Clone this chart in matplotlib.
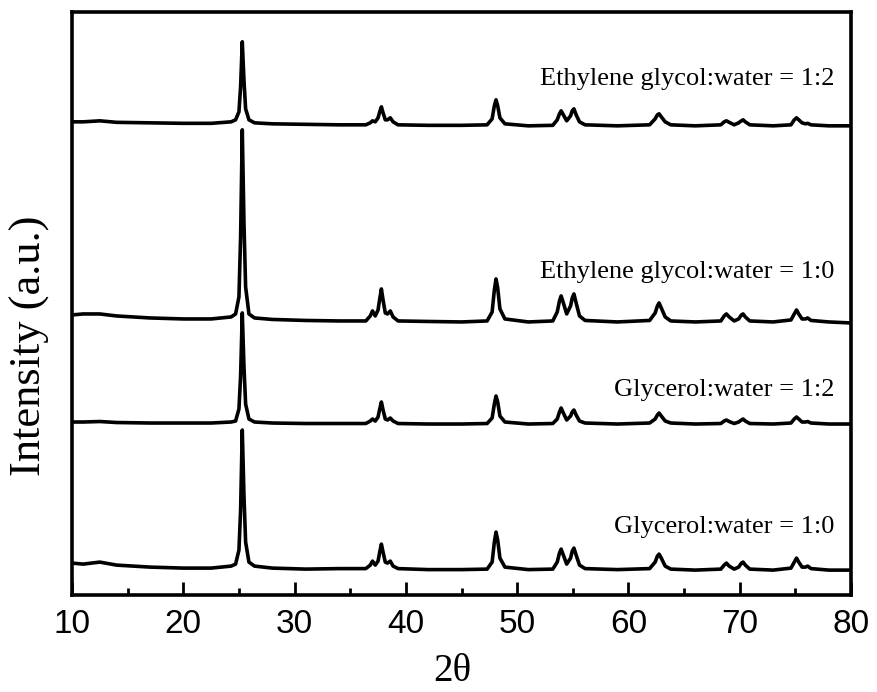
import matplotlib
matplotlib.use("Agg")
import matplotlib.pyplot as plt
from matplotlib.ticker import MultipleLocator

# 2-theta grid shared by all four patterns (degrees)
two_theta = [10, 11, 12.5, 14, 17, 20, 22.5, 24.3, 24.7, 25.0, 25.15, 25.3,
             25.45, 25.6, 25.9, 26.4, 28, 31, 34, 36.4, 36.8, 37.0, 37.25,
             37.5, 37.65, 37.8, 37.95, 38.15, 38.35, 38.6, 38.85, 39.3, 42,
             45, 47.3, 47.75, 47.95, 48.1, 48.25, 48.45, 48.9, 51, 53.2, 53.6,
             53.8, 53.95, 54.15, 54.45, 54.8, 54.95, 55.1, 55.3, 55.6, 56.1,
             59, 61.9, 62.4, 62.6, 62.75, 62.95, 63.3, 63.8, 66, 68.3, 68.6,
             68.8, 69.05, 69.5, 69.9, 70.15, 70.3, 70.5, 70.9, 73, 74.6, 74.9,
             75.1, 75.3, 75.6, 75.9, 76.1, 76.4, 78, 80]

# intensities (a.u.)
gly_1_0 = [7, 6, 8, 5, 3, 2, 2, 4, 6, 20, 60, 140,
           75, 28, 8, 4, 2, 1, 1.5, 1.5, 5, 9, 5,
           9, 18, 26, 18, 8, 7, 9, 4, 1.5, 0.5,
           0.5, 1, 8, 28, 38, 30, 12, 3, 0.5, 1, 8,
           17, 21, 15, 6, 12, 19, 22, 15, 5, 1.5,
           0.5, 1.5, 8, 14, 16, 12, 4, 1, 0, 1, 5,
           7, 4, 1, 3, 7, 8, 5, 1, 0, 2, 8,
           12, 8, 3, 3, 4, 1.5, 0, 0]

gly_1_2 = [2, 2, 2.5, 1.5, 1, 1, 1, 2, 3, 15, 48, 111,
           58, 20, 5, 2, 1, 0.5, 0.5, 0.5, 3, 5, 3,
           7, 15, 22, 14, 5, 4, 6, 3, 0.5, 0,
           0, 0.5, 6, 20, 28, 22, 8, 2, 0, 0.5, 5,
           12, 16, 11, 4, 8, 12, 14, 9, 3, 1,
           0, 1, 5, 9, 11, 8, 3, 1, 0, 0.5, 3,
           4, 2.5, 0.5, 2, 4, 5, 3, 0.5, 0, 1, 5,
           7, 5, 2, 2, 2.5, 1, 0, 0]

eg_1_0 = [7, 8, 8, 6, 4, 3, 3, 5, 8, 25, 85, 192,
          100, 35, 8, 4, 2.5, 1.5, 1, 1, 6, 11, 6,
          12, 23, 33, 22, 9, 8, 11, 5, 1, 0.5,
          0, 1, 10, 32, 43, 34, 13, 3, 0, 1, 10,
          21, 26, 19, 8, 16, 24, 28, 19, 6, 1.5,
          0, 1.5, 9, 16, 19, 14, 5, 1, 0, 1, 6,
          8, 5, 1, 3, 7, 8, 5, 1, 0, 2, 8,
          12, 8, 3, 3, 4, 1.5, 0, -1]

eg_1_2 = [3, 3, 4, 2.5, 2, 1.5, 1.5, 3, 5, 13, 38, 83,
          45, 16, 5, 2, 1, 0.5, 0, 0, 2, 4, 3,
          7, 13, 18, 12, 5, 5, 7, 3, 0, -0.5,
          -0.5, 0, 6, 19, 25, 19, 7, 1, -1, -0.5, 5,
          11, 14, 10, 4, 9, 14, 16, 10, 3, 0,
          -1, 0, 6, 10, 11, 8, 3, 0, -1, 0, 3,
          4, 2.5, 0, 2, 4, 5, 3, 0, -1, 0, 5,
          7, 5, 2, 1, 1.5, 0, -1, -1]

patterns = [gly_1_0, gly_1_2, eg_1_0, eg_1_2]
labels = ["Glycerol:water = 1:0", "Glycerol:water = 1:2",
          "Ethylene glycol:water = 1:0", "Ethylene glycol:water = 1:2"]

# vertical stacking offsets and label heights
offsets = [25, 171, 273, 470]
label_y = [68, 205, 323, 516]

serif = "Liberation Serif"
sans = "Liberation Sans"

fig = plt.figure(figsize=(8.77, 6.92), dpi=100)
ax = fig.add_axes([0.0821, 0.140, 0.8883, 0.843])

for y, off, lab, ly in zip(patterns, offsets, labels, label_y):
    ax.plot(two_theta, [v + off for v in y], color="black", lw=2.6,
            solid_joinstyle="round")
    ax.text(78.5, ly, lab, ha="right", va="center", fontsize=19,
            family=serif)

ax.set_xlim(10, 80)
ax.set_ylim(0, 583)
ax.xaxis.set_major_locator(MultipleLocator(10))
ax.xaxis.set_minor_locator(MultipleLocator(5))
ax.tick_params(axis="x", which="major", direction="in", length=9.5,
               width=2, pad=10, labelsize=24)
ax.tick_params(axis="x", which="minor", direction="in", length=5, width=2)
ax.set_yticks([])
for lbl in ax.get_xticklabels():
    lbl.set_family(sans)
for sp in ax.spines.values():
    sp.set_linewidth(2.6)

ax.set_xlabel("2\u03b8", family=serif, fontsize=28)
ax.xaxis.set_label_coords(0.488, -0.1)
ax.set_ylabel("Intensity (a.u.)", family=serif, fontsize=32)
ax.yaxis.set_label_coords(-0.028, 0.427)

fig.savefig("out.png", dpi=100)
